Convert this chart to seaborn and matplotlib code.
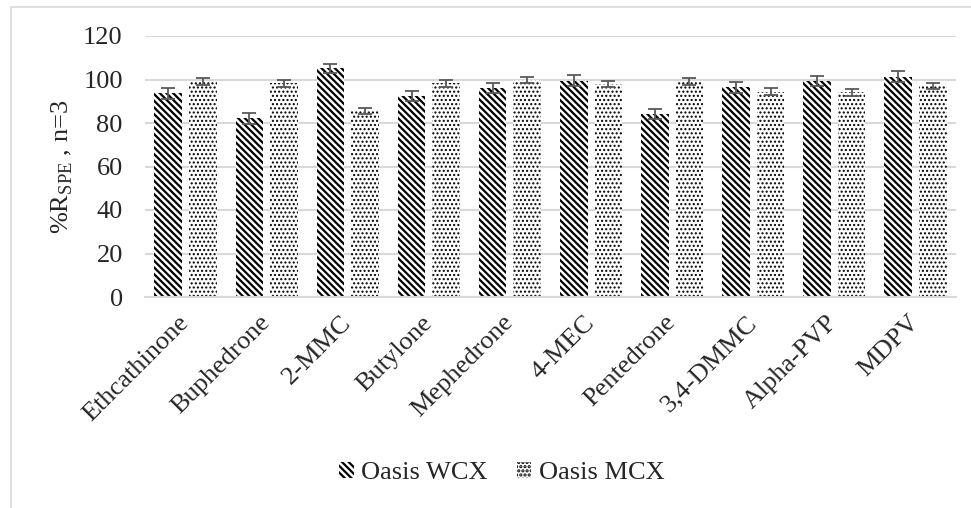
import matplotlib
matplotlib.use('Agg')
import matplotlib.pyplot as plt
from matplotlib.patches import Patch, Rectangle
import pandas as pd
import seaborn as sns

# recovery data (%R_SPE, n=3)
compounds = ['Ethcathinone', 'Buphedrone', '2-MMC', 'Butylone', 'Mephedrone',
             '4-MEC', 'Pentedrone', '3,4-DMMC', 'Alpha-PVP', 'MDPV']
methods = ['Oasis WCX', 'Oasis MCX']
wcx = [93.6, 82.2, 105.1, 92.4, 96.0, 99.5, 84.1, 96.4, 99.3, 101.3]
wcx_err = [2.5, 2.6, 2.2, 2.4, 2.4, 2.5, 2.4, 2.4, 2.4, 2.6]
mcx = [99.0, 98.2, 85.5, 98.2, 99.8, 97.9, 99.0, 94.4, 94.1, 97.0]
mcx_err = [1.5, 1.5, 1.5, 1.5, 1.5, 1.4, 1.5, 1.5, 1.5, 1.5]


def main():
    df = pd.DataFrame({
        'compound': compounds * 2,
        'method': [methods[0]] * len(compounds) + [methods[1]] * len(compounds),
        'value': wcx + mcx,
    })

    sns.set_style('white')
    plt.rcParams['font.family'] = ['Liberation Serif', 'DejaVu Serif']
    plt.rcParams['mathtext.fontset'] = 'custom'
    plt.rcParams['mathtext.rm'] = 'Liberation Serif'
    plt.rcParams['font.size'] = 19
    plt.rcParams['hatch.linewidth'] = 1.6

    fig = plt.figure(figsize=(9.71, 5.08), dpi=100)
    ax = fig.add_axes([145 / 971, 1 - 297 / 508, (956 - 145) / 971, (297 - 36) / 508])

    sns.barplot(data=df, x='compound', y='value', hue='method', hue_order=methods,
                palette=['white', 'white'], width=0.852, gap=0.2, errorbar=None,
                edgecolor='black', linewidth=0, legend=False, ax=ax)

    hatches = ['\\\\\\\\\\', '....']
    hatch_lw = [1.6, 1.0]
    errs = [wcx_err, mcx_err]
    for cont, h, hl, err in zip(ax.containers, hatches, hatch_lw, errs):
        xs, ys = [], []
        for bar in cont:
            bar.set_hatch(h)
            if hasattr(bar, 'set_hatch_linewidth'):
                bar.set_hatch_linewidth(hl)
            xs.append(bar.get_x() + bar.get_width() / 2)
            ys.append(bar.get_height())
        ax.errorbar(xs, ys, yerr=err, fmt='none', ecolor='#595959',
                    elinewidth=1.3, capsize=5, capthick=1.3, zorder=5)

    ax.set_xlim(-0.5, len(compounds) - 0.5)
    ax.set_ylim(0, 120)
    ax.set_yticks(range(0, 121, 20))
    ax.yaxis.grid(True, color='#d9d9d9', linewidth=1.5)
    ax.set_axisbelow(True)
    for s in ['top', 'right', 'left']:
        ax.spines[s].set_visible(False)
    ax.spines['bottom'].set_color('#d9d9d9')
    ax.spines['bottom'].set_linewidth(1.5)
    ax.tick_params(axis='y', length=0, pad=16)
    ax.tick_params(axis='x', length=0, pad=16)
    ax.set_xlabel('')
    ax.set_ylabel(r'%R$_{\mathrm{SPE}}$ , n=3', labelpad=6)
    plt.setp(ax.get_xticklabels(), rotation=45, ha='right', va='center',
             rotation_mode='anchor')

    # legend with hatched squares
    handles = []
    for m, h, hl in zip(methods, hatches, hatch_lw):
        p = Patch(facecolor='white', edgecolor='black', linewidth=0, hatch=h, label=m)
        if hasattr(p, 'set_hatch_linewidth'):
            p.set_hatch_linewidth(hl)
        handles.append(p)
    fig.legend(handles=handles, loc='center', ncol=2, frameon=False,
               bbox_to_anchor=(502 / 971, 1 - 473 / 508), fontsize=19,
               handlelength=0.55, handleheight=0.6, handletextpad=0.3,
               columnspacing=1.1)

    # chart area border (cropped on right / bottom)
    fig.add_artist(Rectangle((11 / 971, -0.1), 1.2, 1 - 7 / 508 + 0.1,
                             transform=fig.transFigure, fill=False,
                             edgecolor='#d9d9d9', linewidth=1.2))

    fig.savefig('out.png', dpi=100)


if __name__ == '__main__':
    main()
